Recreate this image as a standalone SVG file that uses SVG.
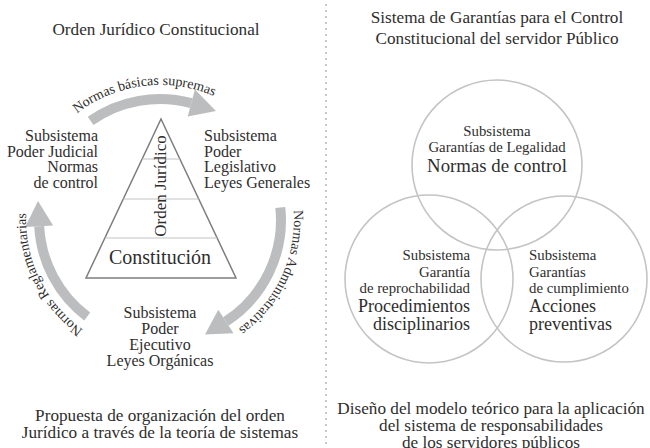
<svg xmlns="http://www.w3.org/2000/svg" width="650" height="448" viewBox="0 0 650 448" font-family="'Liberation Serif', 'DejaVu Serif', 'Noto Serif', serif">
<style>
text{font-family:'Liberation Serif','DejaVu Serif','Noto Serif',serif;fill:#2e2e2e;}
.t16{font-size:16px;}
.cap{font-size:17.2px;}
.t14{font-size:14px;}
.c14{font-size:14.8px;}
.t18{font-size:18px;}
.mid{text-anchor:middle;}
.end{text-anchor:end;}
.shaft{fill:none;stroke:#bcbdbf;stroke-width:10;}
.head{fill:#bcbdbf;}
.ring{fill:none;stroke:#c4c4c4;stroke-width:1.6;}
.tri{fill:none;stroke:#7d7d7d;stroke-width:1.5;}
.tier{stroke:#c4c4c4;stroke-width:1.2;}
</style>
<defs>
<path id="arcTop" d="M 64.5 124.5 A 135 135 0 0 1 255.5 124.5"/>
<path id="arcRight" d="M 285.9 174.2 A 134 134 0 0 1 183.3 352"/>
<path id="arcLeft" d="M 114.2 345.9 A 134 134 0 0 1 44 153"/>
</defs>

<!-- separator -->
<line x1="326" y1="4" x2="326" y2="448" stroke="#c8c8c8" stroke-width="2" stroke-dasharray="2 4"/>

<!-- titles -->
<g id="title-left">
<text class="cap mid" x="156" y="35">Orden Jurídico Constitucional</text>
</g>
<g id="title-right">
<text class="cap mid" x="497" y="23">Sistema de Garantías para el Control</text>
<text class="cap mid" x="497" y="44">Constitucional del servidor Público</text>
</g>

<!-- connectors -->
<g id="connectors">
<path class="shaft" d="M 90.6 120.9 A 121 121 0 0 1 191.3 103.1"/>
<polygon class="head" points="194.9,89.6 216,111 187.7,116.6"/>
<path class="shaft" d="M 280.3 207.4 A 121 121 0 0 1 225.9 321.5"/>
<polygon class="head" points="233.5,333.2 205,334.5 218.3,309.7"/>
<path class="shaft" d="M 87.2 316.6 A 121 121 0 0 1 39.2 226.3"/>
<polygon class="head" points="25.2,227.1 38,201 53.1,225.6"/>
<text class="t14"><textPath href="#arcTop" startOffset="42%" text-anchor="middle">Normas básicas supremas</textPath></text>
<text class="t14"><textPath href="#arcRight" startOffset="45%" text-anchor="middle">Normas Administrativas</textPath></text>
<text class="t14"><textPath href="#arcLeft" startOffset="44%" text-anchor="middle">Normas Reglamentarias</textPath></text>
</g>

<!-- pyramid -->
<g id="pyramid">
<polygon class="tri" points="161,119 236,278 86,278"/>
<line class="tier" x1="142.1" y1="159" x2="179.9" y2="159"/>
<line class="tier" x1="123.3" y1="199" x2="198.7" y2="199"/>
<line class="tier" x1="104.9" y1="238" x2="217.1" y2="238"/>
<text class="mid" style="font-size:17px" transform="translate(166,186) rotate(-90)">Orden Jurídico</text>
<text class="mid" style="font-size:20px" x="160" y="264">Constitución</text>
</g>

<g id="judicial">
<text class="t16 end" x="98" y="141">Subsistema</text>
<text class="t16 end" x="98" y="157">Poder Judicial</text>
<text class="t16 end" x="98" y="172">Normas</text>
<text class="t16 end" x="98" y="188">de control</text>
</g>

<g id="legislativo">
<text class="t16" x="204" y="141">Subsistema</text>
<text class="t16" x="204" y="157">Poder</text>
<text class="t16" x="204" y="172">Legislativo</text>
<text class="t16" x="204" y="188">Leyes Generales</text>
</g>

<g id="ejecutivo">
<text class="t16 mid" x="160" y="318">Subsistema</text>
<text class="t16 mid" x="160" y="334">Poder</text>
<text class="t16 mid" x="160" y="350">Ejecutivo</text>
<text class="t16 mid" x="160" y="366">Leyes Orgánicas</text>
</g>

<g id="caption-left">
<text class="cap mid" x="160" y="421">Propuesta de organización del orden</text>
<text class="cap mid" x="160" y="438">Jurídico a través de la teoría de sistemas</text>
</g>

<!-- Venn -->
<g id="legalidad">
<circle class="ring" cx="497" cy="165" r="85"/>
<text class="c14 mid" x="497" y="136">Subsistema</text>
<text class="c14 mid" x="497" y="152">Garantías de Legalidad</text>
<text class="mid" style="font-size:18.8px" x="497" y="172">Normas de control</text>
</g>
<g id="reprochabilidad">
<circle class="ring" cx="429" cy="279" r="84"/>
<text class="c14 end" x="470" y="260">Subsistema</text>
<text class="c14 end" x="470" y="277">Garantía</text>
<text class="c14 end" x="470" y="293">de reprochabilidad</text>
<text class="t18 end" x="470" y="312">Procedimientos</text>
<text class="t18 end" x="470" y="330">disciplinarios</text>
</g>
<g id="cumplimiento">
<circle class="ring" cx="564" cy="279" r="83"/>
<text class="c14" x="529" y="260">Subsistema</text>
<text class="c14" x="529" y="277">Garantías</text>
<text class="c14" x="529" y="293">de cumplimiento</text>
<text class="t18" x="529" y="312">Acciones</text>
<text class="t18" x="529" y="330">preventivas</text>
</g>

<g id="caption-right">
<text class="cap mid" x="491" y="414">Diseño del modelo teórico para la aplicación</text>
<text class="cap mid" x="491" y="431">del sistema de responsabilidades</text>
<text class="cap mid" x="491" y="448">de los servidores públicos</text>
</g>
</svg>
